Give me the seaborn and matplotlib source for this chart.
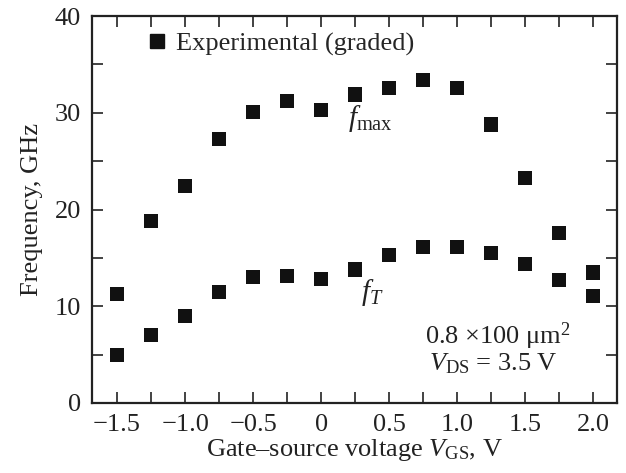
import numpy as np
import pandas as pd
import matplotlib
matplotlib.use('Agg')
import matplotlib.pyplot as plt
from matplotlib.lines import Line2D
import seaborn as sns

# data
vgs = [-1.5, -1.25, -1.0, -0.75, -0.5, -0.25, 0.0, 0.25, 0.5, 0.75, 1.0, 1.25, 1.5, 1.75, 2.0]
f_max = [11.3, 18.8, 22.4, 27.3, 30.1, 31.2, 30.3, 31.9, 32.6, 33.4, 32.6, 28.8, 23.3, 17.6, 13.5]
f_t = [5.0, 7.0, 9.0, 11.5, 13.0, 13.1, 12.8, 13.8, 15.3, 16.1, 16.1, 15.5, 14.4, 12.7, 11.1]

x_ticks = [-1.5, -1.0, -0.5, 0.0, 0.5, 1.0, 1.5, 2.0]
x_labels = ['\u22121.5', '\u22121.0', '\u22120.5', '0', '0.5', '1.0', '1.5', '2.0']
y_ticks = [0, 10, 20, 30, 40]

sns.set_style('ticks')
plt.rcParams['font.family'] = ['Liberation Serif', 'DejaVu Serif']
plt.rcParams['mathtext.fontset'] = 'custom'
plt.rcParams['mathtext.rm'] = 'Liberation Serif'
plt.rcParams['mathtext.it'] = 'Liberation Serif:italic'
plt.rcParams['axes.unicode_minus'] = True

FS = 19
INK = '#222222'

df = pd.DataFrame({'VGS': vgs * 2,
                   'f': f_max + f_t,
                   'series': ['fmax'] * len(vgs) + ['fT'] * len(vgs)})

fig = plt.figure(figsize=(6.26, 4.73), dpi=100)
ax = fig.add_axes([0.147, 0.148, 0.839, 0.818])

sns.scatterplot(data=df, x='VGS', y='f', marker='s', s=105, color='#111111',
                edgecolor='none', legend=False, ax=ax)

ax.set_xlim(-1.684, 2.176)
ax.set_ylim(0, 40)
ax.set_xticks(x_ticks)
ax.set_xticklabels(x_labels)
ax.set_xticks(np.arange(-1.5, 2.01, 0.25), minor=True)
ax.set_yticks(y_ticks)
ax.set_yticks(np.arange(0, 41, 5), minor=True)
ax.tick_params(which='both', direction='in', length=8, width=1.2, top=True, right=True,
               labelsize=FS, colors=INK)
ax.tick_params(axis='x', pad=8)
ax.tick_params(axis='y', pad=8)
for sp in ax.spines.values():
    sp.set_linewidth(1.6)
    sp.set_color(INK)

ax.set_xlabel('Gate\u2013source voltage $V_{\\rm GS}$, V', fontsize=FS, color=INK, labelpad=1)
ax.set_ylabel('Frequency, GHz', fontsize=FS, color=INK, labelpad=8)

handle = Line2D([], [], marker='s', linestyle='none', color='#111111', markersize=10.5)
ax.legend([handle], ['Experimental (graded)'], loc='upper left', frameon=False,
          fontsize=FS, handletextpad=0.1, handlelength=1.2, borderaxespad=0.2,
          bbox_to_anchor=(0.064, 1.0))

ax.text(0.2, 28.6, '$f_{\\rm max}$', fontsize=21, ha='left', va='baseline', color=INK)
ax.text(0.29, 10.6, '$f_{T}$', fontsize=21, ha='left', va='baseline', color=INK)
ax.text(1.83, 6.1, '0.8 \u00d7100 \u03bcm$^2$', fontsize=FS, ha='right', va='baseline', color=INK)
ax.text(1.74, 3.4, '$V_{\\rm DS}$ = 3.5 V', fontsize=FS, ha='right', va='baseline', color=INK)

fig.savefig('out.png', dpi=100)
